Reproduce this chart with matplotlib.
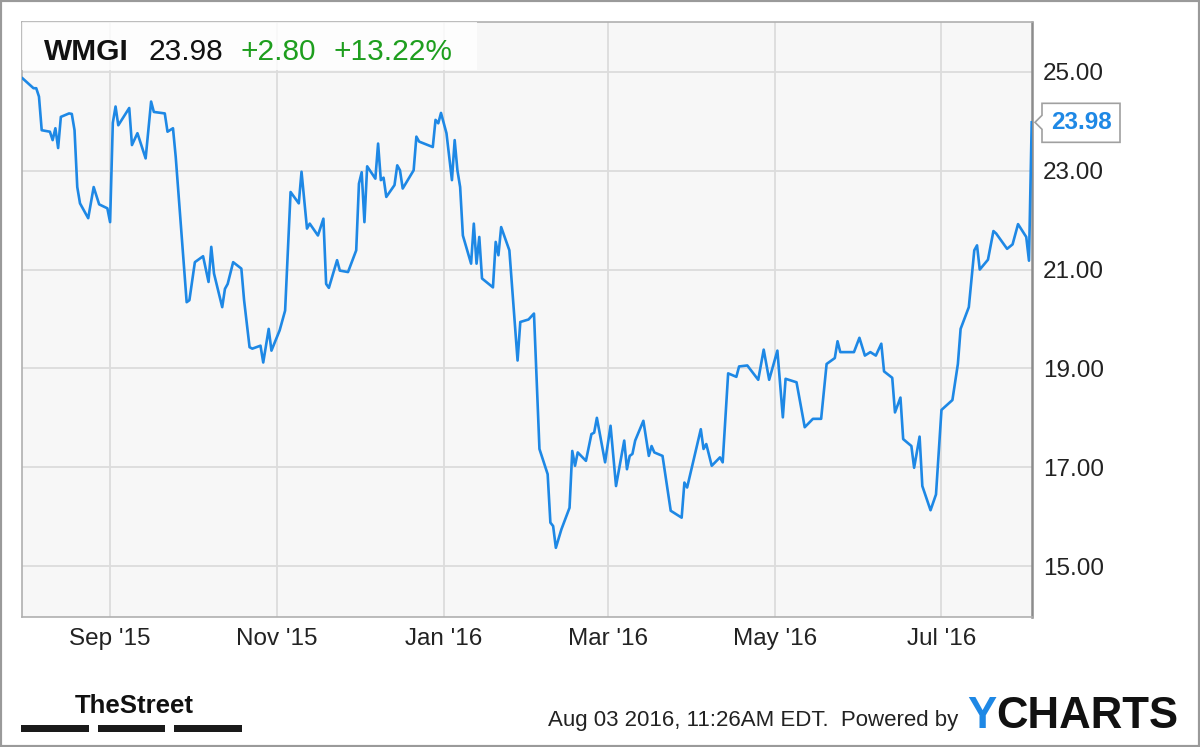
import pandas as pd
import matplotlib
matplotlib.use('Agg')
import matplotlib.pyplot as plt
import matplotlib.transforms as mtransforms
from matplotlib.patches import Rectangle, Polygon

# quote header
ticker = 'WMGI'
last_price = 23.98
change = 2.80
change_pct = 13.22
timestamp = 'Aug 03 2016, 11:26AM EDT.'

# daily closes
dates = [
    '2015-07-31', '2015-08-04', '2015-08-05', '2015-08-06', '2015-08-07', '2015-08-10',
    '2015-08-11', '2015-08-12', '2015-08-13', '2015-08-14', '2015-08-17', '2015-08-18',
    '2015-08-19', '2015-08-20', '2015-08-21', '2015-08-24', '2015-08-26', '2015-08-28',
    '2015-08-31', '2015-09-01', '2015-09-02', '2015-09-03', '2015-09-04', '2015-09-08',
    '2015-09-09', '2015-09-11', '2015-09-14', '2015-09-16', '2015-09-17', '2015-09-21',
    '2015-09-22', '2015-09-24', '2015-09-25', '2015-09-29', '2015-09-30', '2015-10-02',
    '2015-10-05', '2015-10-07', '2015-10-08', '2015-10-09', '2015-10-12', '2015-10-13',
    '2015-10-14', '2015-10-16', '2015-10-19', '2015-10-20', '2015-10-22', '2015-10-23',
    '2015-10-26', '2015-10-27', '2015-10-29', '2015-10-30', '2015-11-02', '2015-11-04',
    '2015-11-06', '2015-11-09', '2015-11-10', '2015-11-12', '2015-11-13', '2015-11-16',
    '2015-11-18', '2015-11-19', '2015-11-20', '2015-11-23', '2015-11-24', '2015-11-27',
    '2015-11-30', '2015-12-01', '2015-12-02', '2015-12-03', '2015-12-04', '2015-12-07',
    '2015-12-08', '2015-12-09', '2015-12-10', '2015-12-11', '2015-12-14', '2015-12-15',
    '2015-12-16', '2015-12-17', '2015-12-21', '2015-12-22', '2015-12-23', '2015-12-28',
    '2015-12-29', '2015-12-30', '2015-12-31', '2016-01-02', '2016-01-03', '2016-01-04',
    '2016-01-05', '2016-01-06', '2016-01-07', '2016-01-08', '2016-01-11', '2016-01-12',
    '2016-01-13', '2016-01-14', '2016-01-15', '2016-01-19', '2016-01-20', '2016-01-21',
    '2016-01-22', '2016-01-25', '2016-01-28', '2016-01-29', '2016-02-01', '2016-02-03',
    '2016-02-05', '2016-02-08', '2016-02-09', '2016-02-10', '2016-02-11', '2016-02-13',
    '2016-02-16', '2016-02-17', '2016-02-18', '2016-02-19', '2016-02-22', '2016-02-24',
    '2016-02-25', '2016-02-26', '2016-02-29', '2016-03-02', '2016-03-04', '2016-03-07',
    '2016-03-08', '2016-03-09', '2016-03-10', '2016-03-11', '2016-03-14', '2016-03-16',
    '2016-03-17', '2016-03-18', '2016-03-21', '2016-03-24', '2016-03-28', '2016-03-29',
    '2016-03-30', '2016-04-04', '2016-04-05', '2016-04-06', '2016-04-08', '2016-04-11',
    '2016-04-12', '2016-04-14', '2016-04-17', '2016-04-18', '2016-04-21', '2016-04-25',
    '2016-04-27', '2016-04-29', '2016-05-02', '2016-05-04', '2016-05-05', '2016-05-09',
    '2016-05-12', '2016-05-15', '2016-05-18', '2016-05-20', '2016-05-23', '2016-05-24',
    '2016-05-25', '2016-05-30', '2016-06-01', '2016-06-03', '2016-06-05', '2016-06-07',
    '2016-06-09', '2016-06-10', '2016-06-13', '2016-06-14', '2016-06-16', '2016-06-17',
    '2016-06-20', '2016-06-21', '2016-06-23', '2016-06-24', '2016-06-27', '2016-06-29',
    '2016-07-01', '2016-07-05', '2016-07-07', '2016-07-08', '2016-07-11', '2016-07-13',
    '2016-07-14', '2016-07-15', '2016-07-18', '2016-07-20', '2016-07-21', '2016-07-25',
    '2016-07-27', '2016-07-29', '2016-08-01', '2016-08-02', '2016-08-03',
]
prices = [
    24.87, 24.67, 24.67, 24.50, 23.82, 23.79,
    23.62, 23.86, 23.46, 24.09, 24.16, 24.15,
    23.82, 22.67, 22.34, 22.04, 22.67, 22.32,
    22.24, 21.96, 23.97, 24.30, 23.92, 24.27,
    23.52, 23.76, 23.25, 24.40, 24.19, 24.16,
    23.79, 23.86, 23.28, 20.34, 20.38, 21.15,
    21.27, 20.75, 21.46, 20.92, 20.24, 20.61,
    20.71, 21.15, 21.02, 20.38, 19.43, 19.40,
    19.46, 19.12, 19.80, 19.36, 19.77, 20.17,
    22.57, 22.34, 22.98, 21.83, 21.93, 21.69,
    22.03, 20.71, 20.63, 21.19, 20.98, 20.95,
    21.39, 22.74, 22.97, 21.96, 23.09, 22.84,
    23.55, 22.81, 22.86, 22.47, 22.71, 23.11,
    23.01, 22.64, 23.01, 23.69, 23.59, 23.48,
    24.03, 23.96, 24.17, 23.76, 23.28, 22.81,
    23.62, 23.01, 22.67, 21.69, 21.12, 21.93,
    21.12, 21.66, 20.82, 20.64, 21.56, 21.29,
    21.86, 21.39, 19.16, 19.94, 19.99, 20.11,
    17.37, 16.86, 15.88, 15.81, 15.37, 15.74,
    16.18, 17.33, 17.03, 17.30, 17.13, 17.67,
    17.70, 18.00, 17.10, 17.84, 16.62, 17.54,
    16.96, 17.23, 17.27, 17.54, 17.94, 17.23,
    17.43, 17.30, 17.23, 16.12, 15.98, 16.69,
    16.59, 17.77, 17.37, 17.47, 17.03, 17.20,
    17.10, 18.90, 18.83, 19.04, 19.06, 18.77,
    19.38, 18.77, 19.36, 18.01, 18.79, 18.72,
    17.81, 17.98, 17.98, 19.09, 19.21, 19.55,
    19.33, 19.33, 19.62, 19.26, 19.33, 19.26,
    19.50, 18.94, 18.81, 18.11, 18.41, 17.57,
    17.43, 16.99, 17.62, 16.62, 16.13, 16.45,
    18.16, 18.36, 19.09, 19.80, 20.24, 21.39,
    21.49, 21.00, 21.20, 21.78, 21.73, 21.42,
    21.51, 21.92, 21.66, 21.18, 23.98,
]

x_ticks = ['2015-09-01', '2015-11-01', '2016-01-01', '2016-03-01', '2016-05-01', '2016-07-01']
x_tick_labels = ["Sep '15", "Nov '15", "Jan '16", "Mar '16", "May '16", "Jul '16"]
y_ticks = [15, 17, 19, 21, 23, 25]

BLUE = '#1e88e5'
GREEN = '#1e9e1e'
W, H = 1200, 747

plt.rcParams['font.family'] = ['Liberation Sans', 'DejaVu Sans']


def fx(px):
    return px / W


def fy(py):
    return 1 - py / H


def main():
    fig = plt.figure(figsize=(W / 100, H / 100), dpi=100)
    fig.patch.set_facecolor('white')

    ax = fig.add_axes([fx(22), fy(617), (1032 - 22) / W, (617 - 22) / H])
    ax.set_facecolor('#f7f7f7')
    ax.plot(pd.to_datetime(dates), prices, color=BLUE, lw=1.9,
            solid_joinstyle='round', zorder=3)

    ax.set_xlim(pd.Timestamp('2015-07-30 19:00'), pd.Timestamp('2016-08-03 02:30'))
    ax.set_ylim(13.97, 26.01)

    ax.set_xticks(pd.to_datetime(x_ticks))
    ax.set_xticklabels(x_tick_labels)
    ax.yaxis.tick_right()
    ax.set_yticks(y_ticks)
    ax.set_yticklabels([f'{v:.2f}' for v in y_ticks])
    ax.tick_params(axis='both', length=0, labelsize=17.5, labelcolor='#222222')
    ax.tick_params(axis='y', pad=8)
    ax.tick_params(axis='x', pad=8)

    ax.grid(True, color='#dcdcdc', lw=1.3)
    ax.set_axisbelow(True)
    for side in ['top', 'left', 'bottom']:
        ax.spines[side].set_color('#b0b0b0')
        ax.spines[side].set_linewidth(1.2)
    ax.spines['right'].set_color('#8c8c8c')
    ax.spines['right'].set_linewidth(1.8)

    # quote header box
    fig.add_artist(Rectangle((fx(22), fy(70)), (477 - 22) / W, (70 - 22) / H,
                             transform=fig.transFigure, fc='white', ec='none', alpha=0.8))
    fig.text(fx(44), fy(60), ticker, fontsize=21.5, weight='bold', color='#111111', va='baseline')
    fig.text(fx(148), fy(60), f'{last_price:.2f}', fontsize=21.5, color='#111111', va='baseline')
    fig.text(fx(240), fy(60), f'+{change:.2f}', fontsize=21.5, color=GREEN, va='baseline')
    fig.text(fx(333), fy(60), f'+{change_pct:.2f}%', fontsize=21.5, color=GREEN, va='baseline')

    # last price callout on the right axis
    x0, y0 = ax.get_yaxis_transform().transform((1, prices[-1]))
    tr = mtransforms.Affine2D().translate(x0, y0)
    fig.add_artist(Polygon([(3, 0), (10, 7), (10, 19), (88, 19), (88, -20), (10, -20), (10, -7)],
                           transform=tr, fc='white', ec='#a0a0a0', lw=1.2))
    fig.text(49, 0, f'{prices[-1]:.2f}', transform=tr, ha='center', va='center',
             fontsize=17.5, weight='bold', color=BLUE)

    # footer
    fig.text(fx(75), fy(713), 'TheStreet', fontsize=18.5, weight='bold', color='#111111',
             va='baseline')
    for left, right in [(21, 89), (98, 165), (174, 242)]:
        fig.add_artist(Rectangle((fx(left), fy(732)), (right - left) / W, 7 / H,
                                 transform=fig.transFigure, fc='#1a1a1a', ec='none'))

    fig.text(fx(958), fy(726), timestamp + '  Powered by', ha='right', va='baseline',
             fontsize=16, color='#222222')
    y_txt = fig.text(fx(967), fy(728), 'Y', fontsize=31.5, weight='bold', color=BLUE, va='baseline')
    fig.canvas.draw()
    bb = y_txt.get_window_extent()
    fig.text(bb.x1 / W, fy(728), 'CHARTS', fontsize=31.5, weight='bold', color='#111111',
             va='baseline')

    # outer frame
    fig.add_artist(Rectangle((0, 0), 1, 1, transform=fig.transFigure, fill=False,
                             ec='#9a9a9a', lw=3))

    fig.savefig('out.png', dpi=100)


if __name__ == '__main__':
    main()
